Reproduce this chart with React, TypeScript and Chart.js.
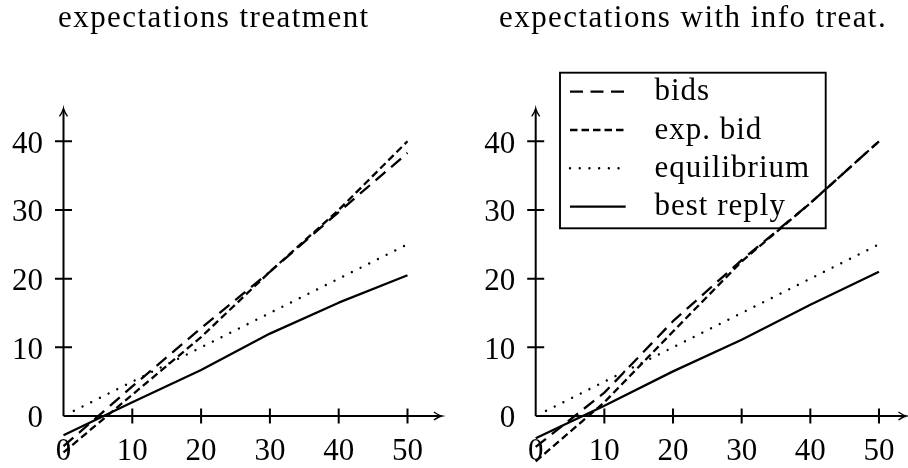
import React, { useEffect, useRef } from 'react';
import { Chart, registerables } from 'chart.js';

Chart.register(...registerables);

// ---------- data ----------
const xValues = [0, 10, 20, 30, 40, 50];
const eqX = [1.5, 10, 20, 30, 40, 50];
const eqY = [0.75, 5, 10, 15, 20, 25];

const leftBids = [-4.4, 4.3, 12.8, 21, 29.7, 38.3];
const leftExpBid = [-5.3, 3.1, 11.5, 21, 30, 40];
const leftBestReply = [-2.8, 2.0, 6.7, 12.0, 16.5, 20.5];

const rightBids = [-4.5, 3.4, 13.8, 22.7, 31, 40];
const rightExpBid = [-6.6, 2.0, 12.3, 22.5, 31, 40];
const rightBestReply = [-3.25, 1.5, 6.5, 11.1, 16.2, 21];

const seriesLabels = ['bids', 'exp. bid', 'equilibrium', 'best reply'];
const xTickLabels = [0, 10, 20, 30, 40, 50];
const xTickMarks = [10, 20, 30, 40, 50];
const yTickLabels = [0, 10, 20, 30, 40];
const yTickMarks = [10, 20, 30, 40];
const titles = ['expectations treatment', 'expectations with info treat.'];

// ---------- styling ----------
const FONT = '"Liberation Serif", "Times New Roman", serif';
const Y_MIN = -7;
const Y_MAX = 45;
const Y_ARROW = 44.8;

type Panel = {
  key: string;
  title: string;
  titleX: number;
  bids: number[];
  expBid: number[];
  bestReply: number[];
  xMax: number;
  padding: { left: number; right: number; top: number; bottom: number };
  legend: boolean;
};

const panels: Panel[] = [
  {
    key: 'L',
    title: titles[0],
    titleX: 58,
    bids: leftBids,
    expBid: leftExpBid,
    bestReply: leftBestReply,
    xMax: 55,
    padding: { left: 63.5, right: 12.1, top: 106.96, bottom: 3.93 },
    legend: false,
  },
  {
    key: 'R',
    title: titles[1],
    titleX: 45,
    bids: rightBids,
    expBid: rightExpBid,
    bestReply: rightBestReply,
    xMax: 54,
    padding: { left: 81.7, right: 1.55, top: 106.96, bottom: 3.93 },
    legend: true,
  },
];

const dashStyles: { dash: number[]; width: number; cap: CanvasLineCap }[] = [
  { dash: [13, 7.5], width: 2.3, cap: 'butt' },
  { dash: [7.5, 4], width: 2.3, cap: 'butt' },
  { dash: [0.01, 9.7], width: 2.4, cap: 'round' },
  { dash: [], width: 2.3, cap: 'butt' },
];

function drawArrow(ctx: CanvasRenderingContext2D, tx: number, ty: number, dir: 'up' | 'right') {
  ctx.save();
  ctx.translate(tx, ty);
  if (dir === 'up') ctx.rotate(-Math.PI / 2);
  ctx.beginPath();
  ctx.moveTo(-8, -4);
  ctx.quadraticCurveTo(-3, -0.6, 0, 0);
  ctx.quadraticCurveTo(-3, 0.6, -8, 4);
  ctx.lineWidth = 1.4;
  ctx.strokeStyle = '#000';
  ctx.stroke();
  ctx.restore();
}

function makeDeco(p: Panel) {
  return {
    id: 'deco' + p.key,
    beforeDatasetsDraw(chart: any) {
      const ctx: CanvasRenderingContext2D = chart.ctx;
      const xs = chart.scales.x;
      const ys = chart.scales.y;
      const x0 = xs.getPixelForValue(0);
      const y0 = ys.getPixelForValue(0);
      const xEnd = xs.getPixelForValue(p.xMax);
      const yEnd = ys.getPixelForValue(Y_ARROW);
      ctx.save();
      ctx.strokeStyle = '#000';
      ctx.lineWidth = 2;
      ctx.setLineDash([]);
      ctx.beginPath();
      ctx.moveTo(x0, y0);
      ctx.lineTo(xEnd - 1, y0);
      ctx.moveTo(x0, y0);
      ctx.lineTo(x0, yEnd + 1);
      ctx.stroke();
      // tick marks
      ctx.beginPath();
      xTickMarks.forEach((v) => {
        const px = xs.getPixelForValue(v);
        ctx.moveTo(px, y0 - 7.5);
        ctx.lineTo(px, y0 + 7.5);
      });
      yTickMarks.forEach((v) => {
        const py = ys.getPixelForValue(v);
        ctx.moveTo(x0 - 8.5, py);
        ctx.lineTo(x0 + 8.5, py);
      });
      ctx.stroke();
      ctx.restore();
      drawArrow(ctx, xEnd, y0, 'right');
      drawArrow(ctx, x0, yEnd, 'up');

      // tick labels
      ctx.save();
      ctx.fillStyle = '#000';
      ctx.font = `31px ${FONT}`;
      ctx.textBaseline = 'alphabetic';
      ctx.textAlign = 'center';
      xTickLabels.forEach((v) => {
        ctx.fillText(String(v), xs.getPixelForValue(v), y0 + 44);
      });
      ctx.textAlign = 'right';
      yTickLabels.forEach((v) => {
        ctx.fillText(String(v), x0 - 20.5, ys.getPixelForValue(v) + 11.5);
      });
      ctx.restore();
    },
    afterDatasetsDraw(chart: any) {
      const ctx: CanvasRenderingContext2D = chart.ctx;
      ctx.save();
      ctx.fillStyle = '#000';
      ctx.font = `31px ${FONT}`;
      (ctx as any).letterSpacing = '1.45px';
      ctx.textAlign = 'left';
      ctx.textBaseline = 'alphabetic';
      ctx.fillText(p.title, p.titleX, 27);
      ctx.restore();

      if (p.legend) {
        const bx = 106;
        const by = 72.7;
        const bw = 265.7;
        const bh = 155.6;
        ctx.save();
        ctx.strokeStyle = '#000';
        ctx.lineWidth = 1.9;
        ctx.setLineDash([]);
        ctx.strokeRect(bx, by, bw, bh);
        chart.data.datasets.forEach((ds: any, i: number) => {
          const ry = 91.7 + i * 38.3;
          ctx.beginPath();
          ctx.setLineDash(ds.borderDash || []);
          ctx.lineCap = ds.borderCapStyle || 'butt';
          ctx.lineWidth = ds.borderWidth;
          ctx.moveTo(116, ry);
          ctx.lineTo(171.7, ry);
          ctx.stroke();
          ctx.setLineDash([]);
          ctx.fillStyle = '#000';
          ctx.font = `31px ${FONT}`;
          (ctx as any).letterSpacing = '1px';
          ctx.textAlign = 'left';
          ctx.textBaseline = 'alphabetic';
          ctx.fillText(ds.label, 200.5, ry + 8.5);
        });
        ctx.restore();
      }
    },
  };
}

function buildConfig(p: Panel): any {
  const series = [p.bids, p.expBid, null, p.bestReply];
  const datasets = seriesLabels.map((label, i) => {
    const data =
      i === 2
        ? eqX.map((x, j) => ({ x, y: eqY[j] }))
        : xValues.map((x, j) => ({ x, y: (series[i] as number[])[j] }));
    return {
      label,
      data,
      borderColor: '#000',
      backgroundColor: '#000',
      borderWidth: dashStyles[i].width,
      borderDash: dashStyles[i].dash,
      borderCapStyle: dashStyles[i].cap,
      borderJoinStyle: 'round',
      pointRadius: 0,
      fill: false,
      tension: 0,
      clip: false,
    };
  });
  return {
    type: 'line',
    data: { datasets },
    options: {
      animation: false,
      responsive: false,
      maintainAspectRatio: false,
      layout: { padding: p.padding },
      scales: {
        x: { type: 'linear', min: 0, max: p.xMax, display: false },
        y: { type: 'linear', min: Y_MIN, max: Y_MAX, display: false },
      },
      plugins: {
        legend: { display: false },
        title: { display: false },
        tooltip: { enabled: false },
      },
      events: [],
    },
    plugins: [makeDeco(p)],
  };
}

function PanelChart({ p }: { p: Panel }) {
  const ref = useRef<HTMLCanvasElement | null>(null);
  useEffect(() => {
    if (!ref.current) return;
    const chart = new Chart(ref.current, buildConfig(p));
    return () => chart.destroy();
  }, [p]);
  return <canvas ref={ref} width={454} height={468} style={{ display: 'block', width: 454, height: 468 }} />;
}

export default function App() {
  return (
    <div
      style={{
        position: 'absolute',
        left: 0,
        top: 0,
        width: 908,
        height: 468,
        display: 'flex',
        background: '#fff',
      }}
    >
      {panels.map((p) => (
        <PanelChart key={p.key} p={p} />
      ))}
    </div>
  );
}
